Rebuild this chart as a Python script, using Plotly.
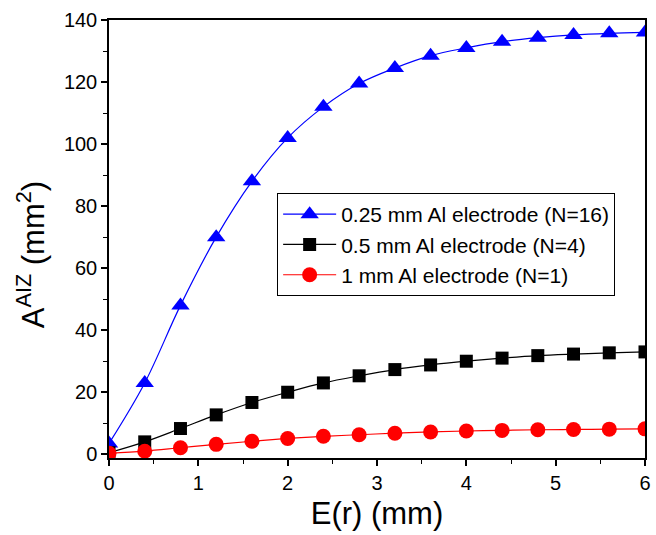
import plotly.graph_objects as go

x_vals = [0, 0.4, 0.8, 1.2, 1.6, 2.0, 2.4, 2.8, 3.2, 3.6, 4.0, 4.4, 4.8, 5.2, 5.6, 6.0]
blue_025 = [3.5, 23, 48, 70, 88, 102, 112, 119.5, 124.5, 128.5, 131, 133, 134.3, 135.2, 135.7, 136]
black_05 = [0.5, 4, 8.3, 12.7, 16.7, 20, 23, 25.3, 27.3, 28.8, 30, 31, 31.8, 32.3, 32.7, 33]
red_1 = [0.3, 1.0, 2.1, 3.2, 4.2, 5.1, 5.8, 6.3, 6.8, 7.2, 7.5, 7.7, 7.9, 8.0, 8.1, 8.2]

names = ["0.25 mm Al electrode (N=16)", "0.5 mm Al electrode (N=4)", "1 mm Al electrode (N=1)"]
x_title = "E(r) (mm)"
y_title = "A<sup>AIZ</sup> (mm<sup>2</sup>)"

FONT = "Arial"

fig = go.Figure()
fig.add_trace(go.Scatter(x=x_vals, y=blue_025, name=names[0], mode="lines+markers",
                         line=dict(color="#0000ff", width=1.2, shape="spline"),
                         marker=dict(symbol="triangle-up", size=16, color="#0000ff")))
fig.add_trace(go.Scatter(x=x_vals, y=black_05, name=names[1], mode="lines+markers",
                         line=dict(color="#000000", width=1.2, shape="spline"),
                         marker=dict(symbol="square", size=13, color="#000000")))
fig.add_trace(go.Scatter(x=x_vals, y=red_1, name=names[2], mode="lines+markers",
                         line=dict(color="#ff0000", width=1.2, shape="spline"),
                         marker=dict(symbol="circle", size=15, color="#ff0000")))

axis_common = dict(showline=True, linecolor="black", linewidth=1.5, mirror=True,
                   ticks="outside", ticklen=6, tickwidth=1.5, tickcolor="black",
                   showgrid=False, zeroline=False,
                   tickfont=dict(family=FONT, size=20, color="black"))

fig.update_xaxes(range=[0, 6], dtick=1, title=dict(text=x_title, standoff=10,
                 font=dict(family=FONT, size=31, color="black")),
                 minor=dict(ticks="outside", dtick=0.5, ticklen=4, tickwidth=1.2, tickcolor="black"),
                 **axis_common)
fig.update_yaxes(range=[-1.2, 140], tick0=0, dtick=20,
                 minor=dict(ticks="outside", tick0=0, dtick=10, ticklen=4, tickwidth=1.2, tickcolor="black"),
                 **axis_common)

fig.add_annotation(text=y_title, xref="paper", yref="paper", x=-0.145, y=0.4635,
                   xanchor="center", yanchor="middle", textangle=-90, showarrow=False,
                   font=dict(family=FONT, size=31, color="black"))

fig.update_layout(
    width=656, height=535,
    margin=dict(l=109, r=5, t=20, b=77),
    plot_bgcolor="white", paper_bgcolor="white",
    font=dict(family=FONT, color="black"),
    showlegend=True,
    legend=dict(x=0.3137, y=0.605, xanchor="left", yanchor="top",
                bordercolor="black", borderwidth=1, bgcolor="white",
                font=dict(family=FONT, size=21, color="black"),
                tracegroupgap=0, itemwidth=53),
)

fig.write_html("out.html")
